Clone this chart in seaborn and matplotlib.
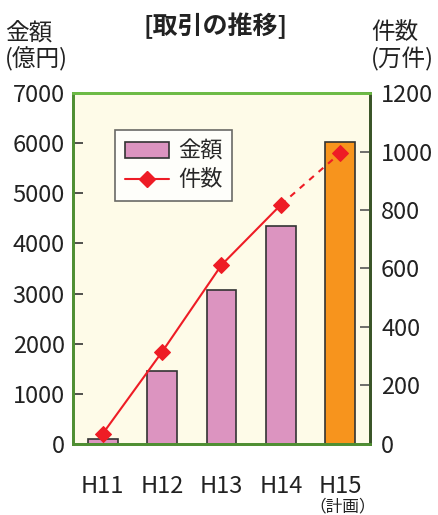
import numpy as np
import pandas as pd
import matplotlib
matplotlib.use("Agg")
import matplotlib.pyplot as plt
import seaborn as sns
from matplotlib.patches import Patch
from matplotlib.lines import Line2D

years = ["H11", "H12", "H13", "H14", "H15"]
amount = [100, 1450, 3070, 4350, 6030]       # 金額 (億円)
count = [35, 315, 612, 818, 995]             # 件数 (万件)
bar_colors = ["#dc94c0", "#dc94c0", "#dc94c0", "#dc94c0", "#f7941d"]
left_ticks = [0, 1000, 2000, 3000, 4000, 5000, 6000, 7000]
right_ticks = [0, 200, 400, 600, 800, 1000, 1200]

sns.set_style("white")
FONT = ["Noto Sans CJK JP", "DejaVu Sans"]
plt.rcParams["font.family"] = FONT

fig = plt.figure(figsize=(4.39, 5.15), dpi=100)
ax = fig.add_axes([0.1663, 0.1379, 0.6765, 0.6815])
ax.set_facecolor("#fefbe8")

df = pd.DataFrame({"year": years, "amount": amount})
sns.barplot(data=df, x="year", y="amount", hue="year", palette=bar_colors,
            legend=False, width=0.5, edgecolor="#333333", linewidth=1.2,
            saturation=1, ax=ax)
ax.set_xlim(-0.5, 4.5)
ax.set_ylim(0, 7000)
ax.set_yticks(left_ticks)
ax.set_xlabel("")
ax.set_ylabel("")

ax2 = ax.twinx()
idx = np.arange(len(years))
sns.lineplot(x=idx[:4], y=count[:4], color="#ee1c25", linewidth=1.5,
             marker="D", markersize=8, markeredgecolor="#ee1c25", ax=ax2)
sns.lineplot(x=idx[3:], y=count[3:], color="#ee1c25", linewidth=1.5,
             linestyle=(0, (3, 3)), ax=ax2)
sns.lineplot(x=idx[4:], y=count[4:], color="#ee1c25", linewidth=0,
             marker="D", markersize=8, markeredgecolor="#ee1c25", ax=ax2)
ax2.set_ylim(0, 1200)
ax2.set_yticks(right_ticks)
ax2.set_xlim(-0.5, 4.5)

# spines
for a in (ax, ax2):
    a.spines["top"].set_color("#6dbb45")
    a.spines["left"].set_color("#4f8f33")
    a.spines["bottom"].set_color("#4f8f33")
    a.spines["right"].set_color("#3a5528")
    for s in a.spines.values():
        s.set_linewidth(2)

ax.tick_params(axis="y", direction="in", length=7, width=1.2, color="#333333",
               labelsize=17, pad=6)
ax2.tick_params(axis="y", direction="in", length=7, width=1.2, color="#555555",
                labelsize=17, pad=8)
ax.set_xticks(idx)
ax.set_xticklabels(years)
ax.tick_params(axis="x", length=0, labelsize=17, pad=22)
ax.set_xticks(idx[:-1] + 0.5, minor=True)
ax.tick_params(axis="x", which="minor", direction="in", length=8, width=1.2,
               color="#333333")
for lab in ax.get_yticklabels() + ax2.get_yticklabels() + ax.get_xticklabels():
    lab.set_color("#222222")

# legend
handles = [Patch(facecolor="#dc94c0", edgecolor="#333333", linewidth=1.2),
           Line2D([0], [0], color="#ee1c25", linewidth=1.5, marker="D",
                  markersize=8)]
leg = ax2.legend(handles, ["金額", "件数"], loc="upper left",
                 bbox_to_anchor=(0.14, 0.895), borderaxespad=0, fontsize=16,
                 frameon=True, fancybox=False, edgecolor="#444444",
                 handlelength=2.0, handletextpad=0.4, borderpad=0.45,
                 labelspacing=0.25)
leg.get_frame().set_linewidth(1.2)
leg.get_frame().set_facecolor("white")

# texts
fig.text(0.49, 0.95, "[取引の推移]", ha="center", va="center", fontsize=18,
         fontweight="bold", color="#222222")
fig.text(0.012, 0.91, "金額\n(億円)", ha="left", va="center", fontsize=17,
         color="#222222", linespacing=1.15)
fig.text(0.845, 0.91, "件数\n(万件)", ha="left", va="center", fontsize=17,
         color="#222222", linespacing=1.15)
fig.text(0.781, 0.016, "（計画）", ha="center", va="center", fontsize=12,
         color="#222222")

fig.savefig("out.png", dpi=100, facecolor="white")
